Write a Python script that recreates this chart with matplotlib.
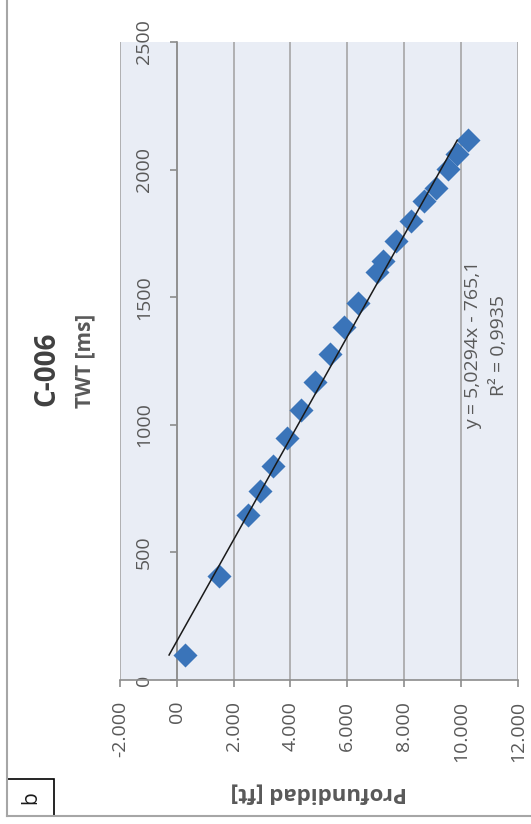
import numpy as np
import matplotlib
matplotlib.use("Agg")
import matplotlib.pyplot as plt
from matplotlib.patches import Rectangle
from matplotlib.lines import Line2D

plt.rcParams['font.family'] = ['Open Sans', 'DejaVu Sans']

# well C-006: two-way time vs depth
twt_ms = [98, 407, 645, 739, 838, 948, 1058, 1166, 1277, 1384,
          1479, 1597, 1640, 1721, 1799, 1878, 1929, 2002, 2063, 2115]
depth_ft = [293, 1483, 2492, 2940, 3389, 3893, 4377, 4882, 5387, 5881,
            6375, 7060, 7271, 7706, 8235, 8705, 9118, 9552, 9859, 10258]

# linear trendline (depth = slope * twt + intercept)
slope = 5.0294
intercept = -765.1
r2 = 0.9935

depth_ticks = [-2000, 0, 2000, 4000, 6000, 8000, 10000, 12000]
depth_tick_labels = ["-2.000", "00", "2.000", "4.000", "6.000", "8.000", "10.000", "12.000"]
twt_ticks = [0, 500, 1000, 1500, 2000, 2500]

txt = '#595959'
grid = '#A6A6A6'

fig = plt.figure(figsize=(5.31, 8.24), dpi=100)
W, H = 531, 824
ax = fig.add_axes([120 / W, 1 - 680 / H, 397.7 / W, 638 / H])
ax.set_facecolor('#E9EDF5')

# time axis crosses at zero depth
for s in ['top', 'right']:
    ax.spines[s].set_visible(False)
ax.spines['left'].set_position(('data', 0))
for s in ['left', 'bottom']:
    ax.spines[s].set_color('#8C8C8C')
    ax.spines[s].set_linewidth(1.2)

ax.scatter(depth_ft, twt_ms, marker='D', s=150, color='#3A74B9', zorder=3, linewidths=0)

tw = np.array([min(twt_ms), max(twt_ms)])
ax.plot(slope * tw + intercept, tw, color='#1a1a1a', lw=1.1, zorder=4)

ax.set_xlim(-2000, 12000)
ax.set_ylim(0, 2500)
ax.set_xticks(depth_ticks)
ax.set_xticklabels(depth_tick_labels)
ax.set_yticks(twt_ticks)
ax.set_yticklabels([str(t) for t in twt_ticks])
ax.tick_params(axis='both', direction='out', length=5, width=1.2, color='#8C8C8C',
               labelsize=14, labelcolor=txt, labelrotation=90)
ax.tick_params(axis='x', pad=10)
ax.tick_params(axis='y', pad=12)
for lbl in ax.get_yticklabels():
    lbl.set_va('center')

ax.xaxis.grid(True, color=grid, lw=1.2)
ax.yaxis.grid(False)
ax.set_axisbelow(True)

ax.set_xlabel('Profundidad [ft]', rotation=180, fontsize=16, fontweight='bold',
              color=txt, ha='center', va='center')
ax.xaxis.set_label_coords(0.5, (680 - 793) / 638)
ax.set_ylabel('TWT [ms]', rotation=90, fontsize=15, fontweight='bold',
              color=txt, ha='center', va='center')
ax.yaxis.set_label_coords((84.5 - 120) / 397.7, 0.5)

eq = f"y = {slope:.4f}x - {abs(intercept):.1f}".replace('.', ',')
r2_txt = f"R² = {r2:.4f}".replace('.', ',')
ax.text(0.92, 0.525, eq + "\n" + r2_txt, transform=ax.transAxes, rotation=90,
        ha='center', va='center', multialignment='center', fontsize=14,
        color=txt, linespacing=1.6)

fig.text(46.5 / W, 1 - 369 / H, 'C-006', rotation=90, ha='center', va='center',
         fontsize=20, fontweight='bold', color='#404040')

# chart frame and panel tag
fig.add_artist(Line2D([7 / W, 7 / W], [1 - 816 / H, 1], transform=fig.transFigure,
                      color=grid, lw=1.5))
fig.add_artist(Line2D([7 / W, 1], [1 - 816 / H, 1 - 816 / H], transform=fig.transFigure,
                      color=grid, lw=1.5))
fig.add_artist(Rectangle((7 / W, 1 - 816 / H), 47 / W, 37 / H, transform=fig.transFigure,
                         fill=False, ec='black', lw=1.2))
fig.text(30.5 / W, 1 - 797.5 / H, 'b', rotation=90, ha='center', va='center',
         fontsize=15, color='#1a1a1a')

fig.savefig('out.png', dpi=100)
